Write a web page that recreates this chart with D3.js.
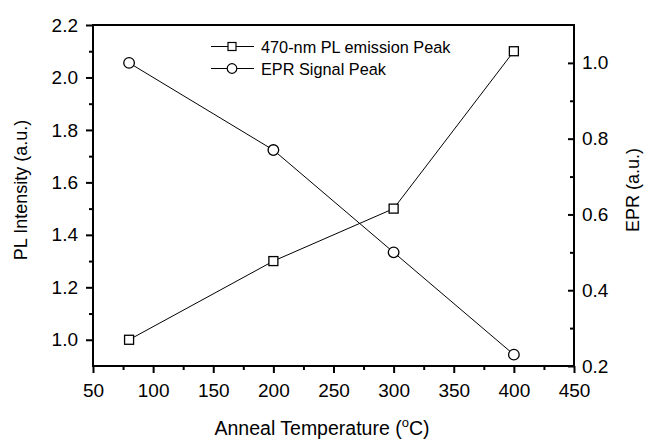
<!DOCTYPE html>
<html><head><meta charset="utf-8">
<script src="https://cdn.jsdelivr.net/npm/d3@7"></script>
<style>body{margin:0;background:#fff}svg{display:block}text{font-family:"Liberation Sans",Arial,sans-serif;fill:#000}</style>
</head><body>
<svg id="c" width="646" height="442"></svg>
<script>
const temps = [80, 200, 300, 400];
const plValues = [1.0, 1.3, 1.5, 2.1];
const eprValues = [1.0, 0.77, 0.5, 0.23];
const xTicks = [50, 100, 150, 200, 250, 300, 350, 400, 450];
const leftTicks = [1.0, 1.2, 1.4, 1.6, 1.8, 2.0, 2.2];
const rightTicks = [0.2, 0.4, 0.6, 0.8, 1.0];
const seriesNames = ["470-nm PL emission Peak", "EPR Signal Peak"];

const svg = d3.select("#c");
const L = 93, R = 574, T = 25, B = 366;
const x = d3.scaleLinear().domain([50, 450]).range([L, R]);
const yL = d3.scaleLinear().domain([0.9, 2.2]).range([B, T]);
const yR = d3.scaleLinear().domain([0.2, 1.1]).range([B, T]);

const fmt = d3.format(".1f");
function style(g){ g.select(".domain").remove(); g.selectAll("line").attr("stroke","#000").attr("stroke-width",2); g.selectAll("text").style("font-size","19px").style("font-family","Liberation Sans, Arial, sans-serif"); }

// minor ticks
svg.append("g").attr("transform",`translate(0,${B})`)
  .call(d3.axisBottom(x).tickValues(d3.range(75, 450, 50)).tickSize(4).tickFormat("")).call(style);
svg.append("g").attr("transform",`translate(${L},0)`)
  .call(d3.axisLeft(yL).tickValues([1.1,1.3,1.5,1.7,1.9,2.1]).tickSize(4).tickFormat("")).call(style);
svg.append("g").attr("transform",`translate(${R},0)`)
  .call(d3.axisRight(yR).tickValues([0.3,0.5,0.7,0.9]).tickSize(-4).tickFormat("")).call(style);

// major
svg.append("g").attr("transform",`translate(0,${B})`)
  .call(d3.axisBottom(x).tickValues(xTicks).tickSize(7).tickPadding(11).tickFormat(d3.format("d"))).call(style);
svg.append("g").attr("transform",`translate(${L},0)`)
  .call(d3.axisLeft(yL).tickValues(leftTicks).tickSize(7).tickPadding(8).tickFormat(fmt)).call(style);
svg.append("g").attr("transform",`translate(${R},0)`)
  .call(d3.axisRight(yR).tickValues(rightTicks).tickSize(-6).tickPadding(8).tickFormat(fmt)).call(style);

// frame
svg.append("rect").attr("x",L).attr("y",T).attr("width",R-L).attr("height",B-T)
  .attr("fill","none").attr("stroke","#000").attr("stroke-width",2);

// series
const pl = temps.map((t,i)=>({t, v:plValues[i]}));
const epr = temps.map((t,i)=>({t, v:eprValues[i]}));
svg.append("path").datum(pl).attr("fill","none").attr("stroke","#000").attr("stroke-width",1)
  .attr("d", d3.line().x(d=>x(d.t)).y(d=>yL(d.v)));
svg.append("path").datum(epr).attr("fill","none").attr("stroke","#000").attr("stroke-width",1)
  .attr("d", d3.line().x(d=>x(d.t)).y(d=>yR(d.v)));
svg.selectAll(".sq").data(pl).enter().append("rect")
  .attr("x",d=>x(d.t)-4.5).attr("y",d=>yL(d.v)-4.5).attr("width",9).attr("height",9)
  .attr("fill","#fff").attr("stroke","#000").attr("stroke-width",1.3);
svg.selectAll(".ci").data(epr).enter().append("circle")
  .attr("cx",d=>x(d.t)).attr("cy",d=>yR(d.v)).attr("r",5.3)
  .attr("fill","#fff").attr("stroke","#000").attr("stroke-width",1.3);

// legend
const lg = svg.append("g");
[0,1].forEach(i=>{
  const yy = 46.5 + i*22;
  lg.append("line").attr("x1",211).attr("x2",254).attr("y1",yy).attr("y2",yy).attr("stroke","#000").attr("stroke-width",1);
  if(i===0) lg.append("rect").attr("x",228).attr("y",yy-4).attr("width",8).attr("height",8).attr("fill","#fff").attr("stroke","#000").attr("stroke-width",1.2);
  else lg.append("circle").attr("cx",232).attr("cy",yy).attr("r",4.8).attr("fill","#fff").attr("stroke","#000").attr("stroke-width",1.2);
  lg.append("text").attr("x",261).attr("y",yy+6).style("font-size","16.3px").text(seriesNames[i]);
});

// axis titles
svg.append("text").attr("transform","translate(27,190) rotate(-90)").attr("text-anchor","middle")
  .style("font-size","18px").text("PL Intensity (a.u.)");
svg.append("text").attr("transform","translate(639,190) rotate(-90)").attr("text-anchor","middle")
  .style("font-size","18px").text("EPR (a.u.)");
const xt = svg.append("text").attr("x",322).attr("y",435).attr("text-anchor","middle").style("font-size","19.5px");
xt.append("tspan").text("Anneal Temperature (");
xt.append("tspan").attr("dy",-8).style("font-size","13px").text("o");
xt.append("tspan").attr("dy",8).text("C)");
</script>
</body></html>
